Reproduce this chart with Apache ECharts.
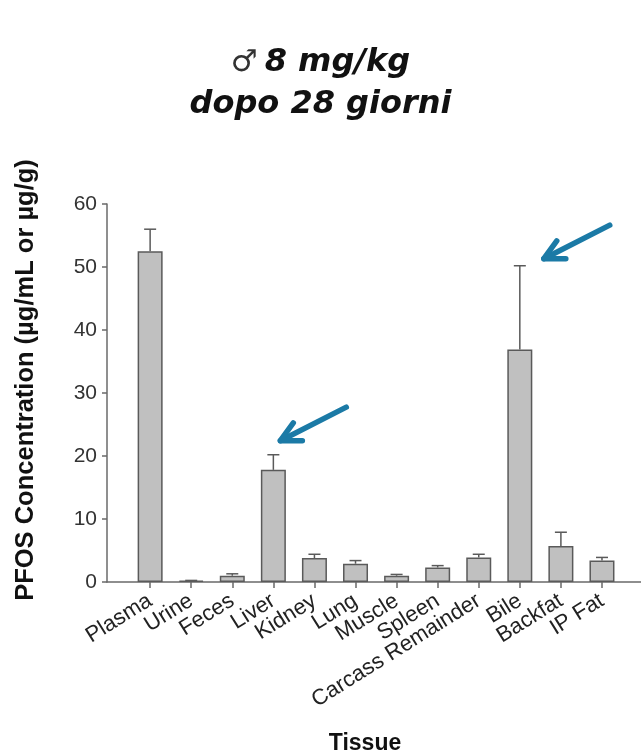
<!DOCTYPE html>
<html>
<head>
<meta charset="utf-8">
<script src="https://cdn.jsdelivr.net/npm/echarts@6/dist/echarts.min.js"></script>
<style>
  html, body { margin: 0; padding: 0; background: #fff; }
  #chart { width: 641px; height: 756px; }
</style>
</head>
<body>
<div id="chart"></div>
<script>
// PFOS tissue distribution, males, 8 mg/kg, day 28
const tissues = ['Plasma', 'Urine', 'Feces', 'Liver', 'Kidney', 'Lung', 'Muscle',
                 'Spleen', 'Carcass Remainder', 'Bile', 'Backfat', 'IP Fat'];
const meanConc = [52.5, 0.2, 1.0, 17.8, 3.8, 2.9, 1.0, 2.3, 3.9, 36.9, 5.7, 3.4];
const sdConc   = [3.5, 0.05, 0.3, 2.4, 0.6, 0.5, 0.2, 0.3, 0.5, 13.3, 2.2, 0.5];
const yTicks   = [0, 10, 20, 30, 40, 50, 60];
// tissues singled out with an arrow
const highlighted = ['Liver', 'Bile'];

const errData = tissues.map((_, i) => [i, meanConc[i], meanConc[i] + sdConc[i]]);

const chart = echarts.init(document.getElementById('chart'), null, { renderer: 'canvas' });

const axisColor = '#6a6a6a';
const labelFont = 'Liberation Sans, Arial, sans-serif';
const band = 534 / 13;               // width of one tissue slot
const plotTop = 204, plotBottom = 174;

chart.setOption({
  animation: false,
  backgroundColor: '#ffffff',
  title: {
    text: '{sym|♂}{gap| }8 mg/kg\ndopo 28 giorni',
    left: 'center',
    top: 37,
    textStyle: {
      fontFamily: 'DejaVu Sans',
      fontStyle: 'italic',
      fontWeight: 'bold',
      fontSize: 32,
      lineHeight: 42,
      color: '#111',
      rich: {
        sym: { fontFamily: 'DejaVu Sans', fontStyle: 'normal', fontWeight: 'normal', fontSize: 30, color: '#333' },
        gap: { fontFamily: 'DejaVu Sans', fontSize: 20 }
      }
    }
  },
  grid: [
    // bars: twelve tissue slots
    { left: 107 + 0.55 * band, right: 0.45 * band, top: plotTop, bottom: plotBottom, containLabel: false, outerBoundsMode: 'none' },
    // frame: axis lines spanning the full plot
    { left: 107, right: 0, top: plotTop, bottom: plotBottom, containLabel: false, outerBoundsMode: 'none' }
  ],
  xAxis: [
    {
      type: 'category',
      gridIndex: 0,
      data: tissues,
      boundaryGap: true,
      axisLine: { show: false },
      axisTick: { show: true, alignWithLabel: true, interval: 0, length: 6, lineStyle: { color: axisColor, width: 1.5 } },
      axisLabel: {
        interval: 0,
        rotate: 32,
        margin: 17,
        fontFamily: labelFont,
        fontSize: 22,
        color: '#222'
      },
      splitLine: { show: false }
    },
    {
      type: 'value',
      gridIndex: 1,
      min: 0,
      max: 1,
      name: 'Tissue',
      nameLocation: 'middle',
      nameGap: 150,
      nameTextStyle: { fontFamily: labelFont, fontWeight: 'bold', fontSize: 23, color: '#111', padding: [0, 18, 0, 0] },
      axisLine: { show: true, onZero: false, lineStyle: { color: axisColor, width: 1.5 } },
      axisTick: { show: false },
      axisLabel: { show: false },
      splitLine: { show: false }
    }
  ],
  yAxis: [
    {
      type: 'value',
      gridIndex: 0,
      min: 0,
      max: 60,
      interval: 10,
      show: false,
      splitLine: { show: false }
    },
    {
      type: 'value',
      gridIndex: 1,
      min: 0,
      max: 60,
      interval: 10,
      name: 'PFOS Concentration (µg/mL or µg/g)',
      nameLocation: 'middle',
      nameGap: 68,
      nameTextStyle: { fontFamily: labelFont, fontWeight: 'bold', fontSize: 25.5, color: '#111', padding: [0, 0, 0, 26] },
      splitLine: { show: false },
      axisLine: { show: true, onZero: false, lineStyle: { color: axisColor, width: 1.5 } },
      axisTick: { show: true, length: 5, lineStyle: { color: axisColor, width: 1.5 } },
      axisLabel: {
        margin: 10,
        fontFamily: labelFont,
        fontSize: 21,
        color: '#333',
        formatter: v => (yTicks.includes(v) ? String(v) : '')
      }
    }
  ],
  series: [
    {
      type: 'bar',
      xAxisIndex: 0,
      yAxisIndex: 0,
      data: meanConc,
      barWidth: 25,
      itemStyle: { color: '#c0c0c0', borderColor: '#5a5a5a', borderWidth: 1.5 },
      z: 2
    },
    {
      // upper error whiskers (mean + SD)
      type: 'custom',
      xAxisIndex: 0,
      yAxisIndex: 0,
      data: errData,
      encode: { x: 0, y: [1, 2] },
      z: 3,
      renderItem: (params, api) => {
        const x = api.value(0);
        const base = api.coord([x, api.value(1)]);
        const top = api.coord([x, api.value(2)]);
        const half = 6;
        const style = { stroke: '#5a5a5a', lineWidth: 1.5 };
        return {
          type: 'group',
          children: [
            { type: 'line', shape: { x1: base[0], y1: base[1], x2: top[0], y2: top[1] }, style },
            { type: 'line', shape: { x1: top[0] - half, y1: top[1], x2: top[0] + half, y2: top[1] }, style }
          ]
        };
      }
    }
  ]
});

// Blue arrows pointing at the whisker tops of the highlighted tissues
const arrowColor = '#1b7aa6';
const arrowOffsets = { Liver: [7, -14], Bile: [24, -7] };
const arrowGraphics = [];
highlighted.forEach(name => {
  const i = tissues.indexOf(name);
  const p = chart.convertToPixel({ xAxisIndex: 0, yAxisIndex: 0 }, [i, meanConc[i] + sdConc[i]]);
  const off = arrowOffsets[name];
  const tip = [p[0] + off[0], p[1] + off[1]];
  const ang = -27 * Math.PI / 180;       // shaft direction, tip -> tail
  const len = 74;
  const tail = [tip[0] + len * Math.cos(ang), tip[1] + len * Math.sin(ang)];
  const head = 22, spread = 27 * Math.PI / 180;
  const h1 = [tip[0] + head * Math.cos(ang + spread), tip[1] + head * Math.sin(ang + spread)];
  const h2 = [tip[0] + head * Math.cos(ang - spread), tip[1] + head * Math.sin(ang - spread)];
  const style = { stroke: arrowColor, lineWidth: 5.5, lineCap: 'round', lineJoin: 'round', fill: null };
  arrowGraphics.push(
    { type: 'polyline', shape: { points: [tail, tip] }, style, z: 10 },
    { type: 'polyline', shape: { points: [h1, tip, h2] }, style, z: 10 }
  );
});
chart.setOption({ graphic: arrowGraphics });
</script>
</body>
</html>
